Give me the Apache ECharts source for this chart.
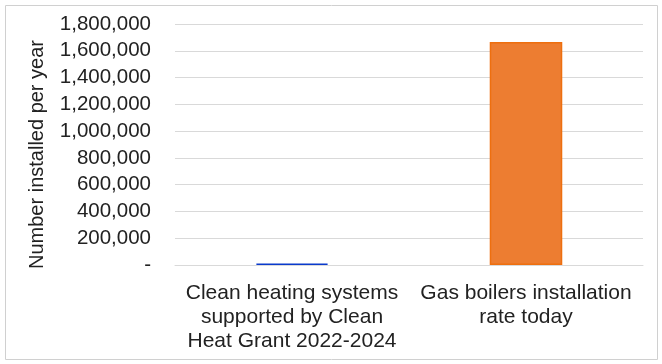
<!DOCTYPE html>
<html><head><meta charset="utf-8">
<script src="https://cdn.jsdelivr.net/npm/echarts@6/dist/echarts.min.js"></script>
<style>html,body{margin:0;padding:0;background:#fff}#c{width:662px;height:364px}</style>
</head><body><div id="c"></div>
<script>
var categories = ['Clean heating systems\nsupported by Clean\nHeat Grant 2022-2024', 'Gas boilers installation\nrate today'];
var values = [10000, 1665000];
var barColors = ['#0a3acc', '#ED7D31'];
var borderColors = ['#0a3acc', '#EE6F0F'];
var yTickMin = 0, yTickMax = 1800000, yTickStep = 200000;
var yTitle = 'Number installed per year';

var chart = echarts.init(document.getElementById('c'));
var font = 'Liberation Sans, Arial, sans-serif';
chart.setOption({
  animation: false,
  graphic: [{type: 'rect', shape: {x: 5.5, y: 5.5, width: 652, height: 354}, style: {fill: 'none', stroke: '#d0d0d0', lineWidth: 1}, z: -1}],
  grid: {left: 175, right: 19, top: 24, bottom: 99},
  xAxis: {
    type: 'category', data: categories,
    axisLine: {show: true, lineStyle: {color: '#d9d9d9', width: 1}},
    axisTick: {show: false},
    axisLabel: {color: '#222', fontFamily: font, fontSize: 21, lineHeight: 24, margin: 16, interval: 0}
  },
  yAxis: {
    type: 'value', min: yTickMin, max: yTickMax, interval: yTickStep,
    name: yTitle, nameLocation: 'middle', nameGap: 128, nameRotate: 90,
    nameTextStyle: {color: '#222', fontFamily: font, fontSize: 20, padding: [0, 20, 0, 0]},
    axisLine: {show: false}, axisTick: {show: false},
    splitLine: {lineStyle: {color: '#d9d9d9', width: 1}},
    axisLabel: {color: '#222', fontFamily: font, fontSize: 20.5, margin: 24,
      formatter: function (v) { return v === 0 ? '-' : v.toLocaleString('en-US'); }}
  },
  series: [{
    type: 'bar', barWidth: '31%',
    data: values.map(function (v, i) {
      return {value: v, itemStyle: {color: barColors[i], borderColor: borderColors[i], borderWidth: 1.5}};
    })
  }]
});
</script></body></html>
